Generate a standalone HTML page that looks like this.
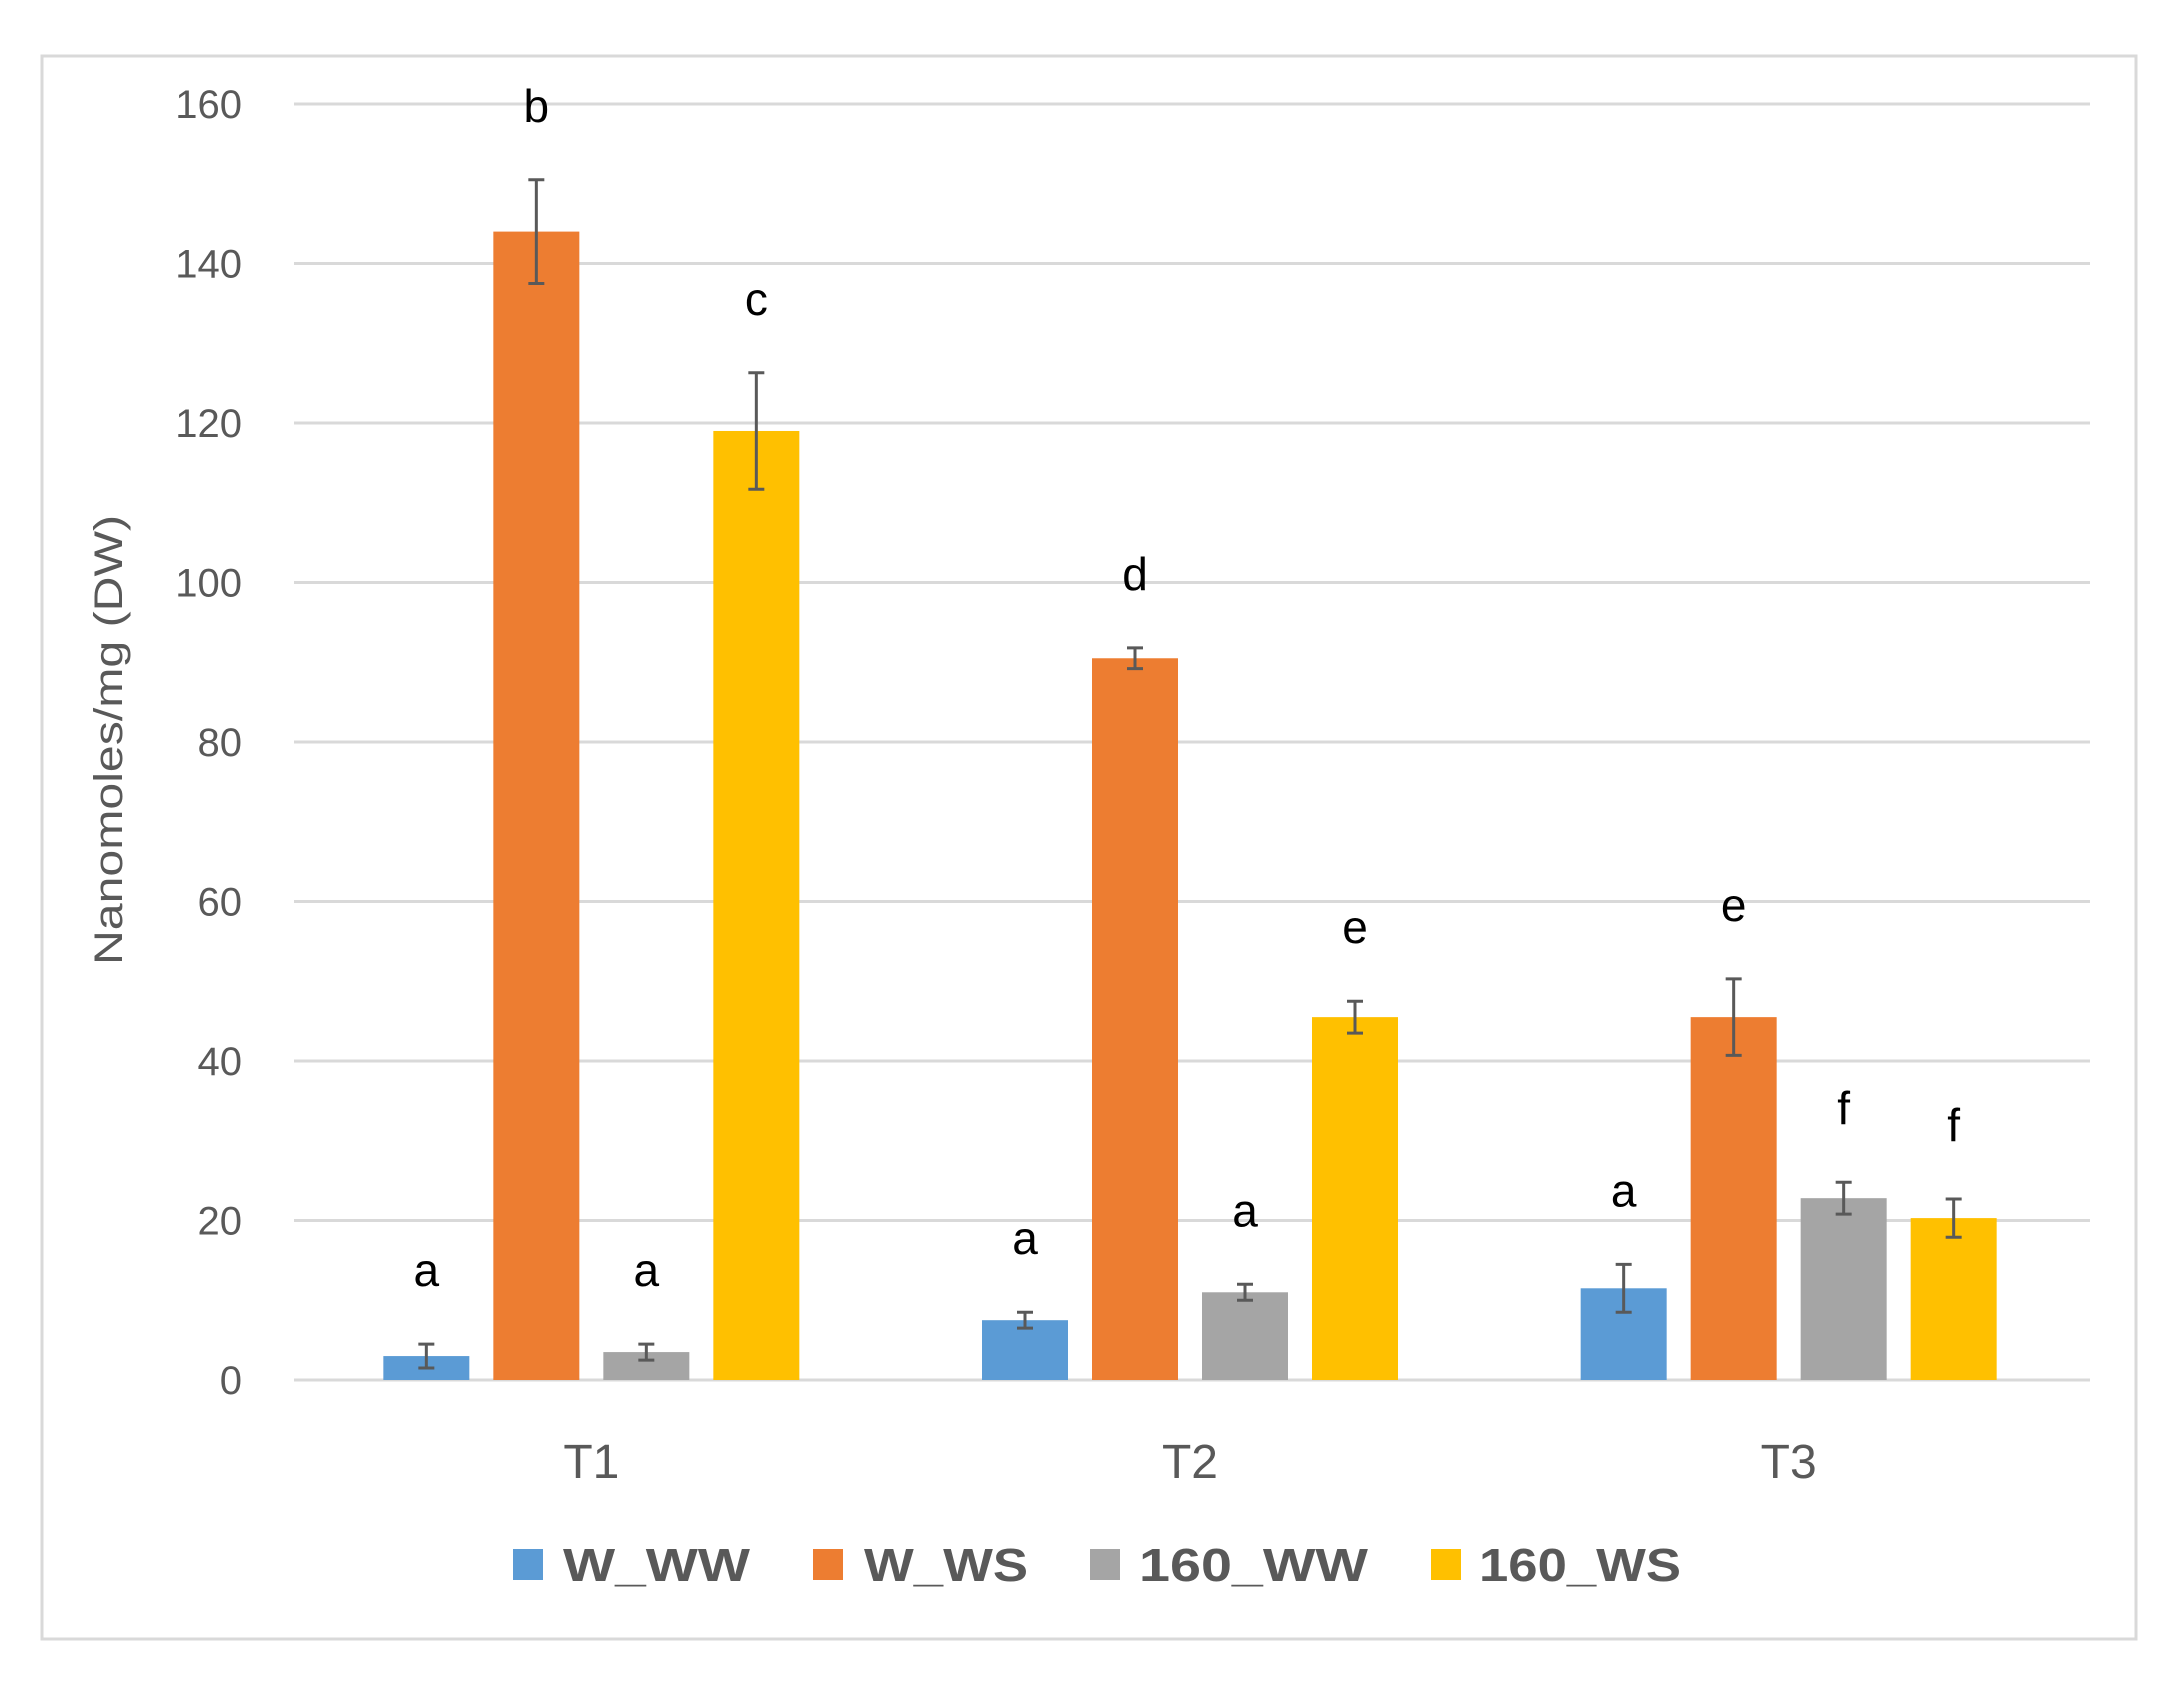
<!DOCTYPE html>
<html><head><meta charset="utf-8"><style>
body{margin:0;background:#fff}
svg{display:block;font-family:"Liberation Sans",sans-serif}
</style></head><body>
<svg id="c" width="2173" height="1682" viewBox="0 0 2173 1682">
<rect x="42" y="56" width="2094" height="1583" fill="#fff" stroke="#d9d9d9" stroke-width="3"/>
<g id="grid"></g><g id="bars"></g>
<text x="122" y="740" transform="rotate(-90 122 740)" text-anchor="middle" font-size="40" fill="#595959" textLength="450" lengthAdjust="spacingAndGlyphs">Nanomoles/mg (DW)</text>
<g id="legend"></g>
</svg>
<script>
const categories=["T1","T2","T3"];
const seriesNames=["W_WW","W_WS","160_WW","160_WS"];
const colors=["#5b9bd5","#ed7d31","#a5a5a5","#ffc000"];
const wwValues=[3,7.5,11.5];
const wsValues=[144,90.5,45.5];
const ww160Values=[3.5,11,22.8];
const ws160Values=[119,45.5,20.3];
const wwErr=[1.5,1,3];
const wsErr=[6.5,1.3,4.8];
const ww160Err=[1,1,2];
const ws160Err=[7.3,2,2.4];
const wwLetters=["a","a","a"];
const wsLetters=["b","d","e"];
const ww160Letters=["a","a","f"];
const ws160Letters=["c","e","f"];
const yTicks=[0,20,40,60,80,100,120,140,160];
const values=[wwValues,wsValues,ww160Values,ws160Values];
const errs=[wwErr,wsErr,ww160Err,ws160Err];
const letters=[wwLetters,wsLetters,ww160Letters,ws160Letters];
const NS="http://www.w3.org/2000/svg";
const x0=294,x1=2090,yb=1380,yt=104,ymax=160;
const y=v=>yb-(yb-yt)*v/ymax;
const gw=(x1-x0)/categories.length;
const cx=i=>x0+gw*(i+0.5);
const offs=[-167,-57,53,163],bw=86;
function mk(tag,a,parent){const e=document.createElementNS(NS,tag);for(const k in a)e.setAttribute(k,a[k]);parent.appendChild(e);return e;}
const grid=document.getElementById('grid'),bars=document.getElementById('bars'),leg=document.getElementById('legend');
yTicks.forEach(t=>{
 const l=mk('line',{x1:x0,x2:x1,y1:y(t),y2:y(t),stroke:'#d9d9d9','stroke-width':3},grid);
 
 
 const tx=mk('text',{x:242,y:y(t)+14,'text-anchor':'end','font-size':40,fill:'#595959'},grid);
 tx.textContent=t;
 
 
});
categories.forEach((c,i)=>{
 const t=mk('text',{x:cx(i)-2,y:1478,'text-anchor':'middle','font-size':48,fill:'#595959'},grid);
 t.textContent=c;
 
 
 values.forEach((vals,s)=>{
  const v=vals[i],e=errs[s][i],bx=cx(i)+offs[s];
  const r=mk('rect',{x:bx-bw/2,y:y(v),width:bw,height:yb-y(v),fill:colors[s]},bars);
  
  
  const g=mk('path',{d:`M${bx},${y(v+e)}V${y(v-e)}M${bx-8},${y(v+e)}H${bx+8}M${bx-8},${y(v-e)}H${bx+8}`,stroke:'#595959','stroke-width':3,fill:'none'},bars);
  
  
  const lt=mk('text',{x:bx,y:y(v+e)-58,'text-anchor':'middle','font-size':46,fill:'#000'},bars);
  lt.textContent=letters[s][i];
  
  
 });
});
const legSq=[513,813,1090,1431],legTx=[563,864,1139,1479],legW=[187,164,229,202];
seriesNames.forEach((n,s)=>{
 const r=mk('rect',{x:legSq[s],y:1549,width:30,height:31,fill:colors[s]},leg);
 
 
 const t=mk('text',{x:legTx[s],y:1581,'font-size':46,'font-weight':'bold',fill:'#595959',textLength:legW[s],lengthAdjust:'spacingAndGlyphs'},leg);
 t.textContent=n;
 
 
});
</script>
</body></html>
